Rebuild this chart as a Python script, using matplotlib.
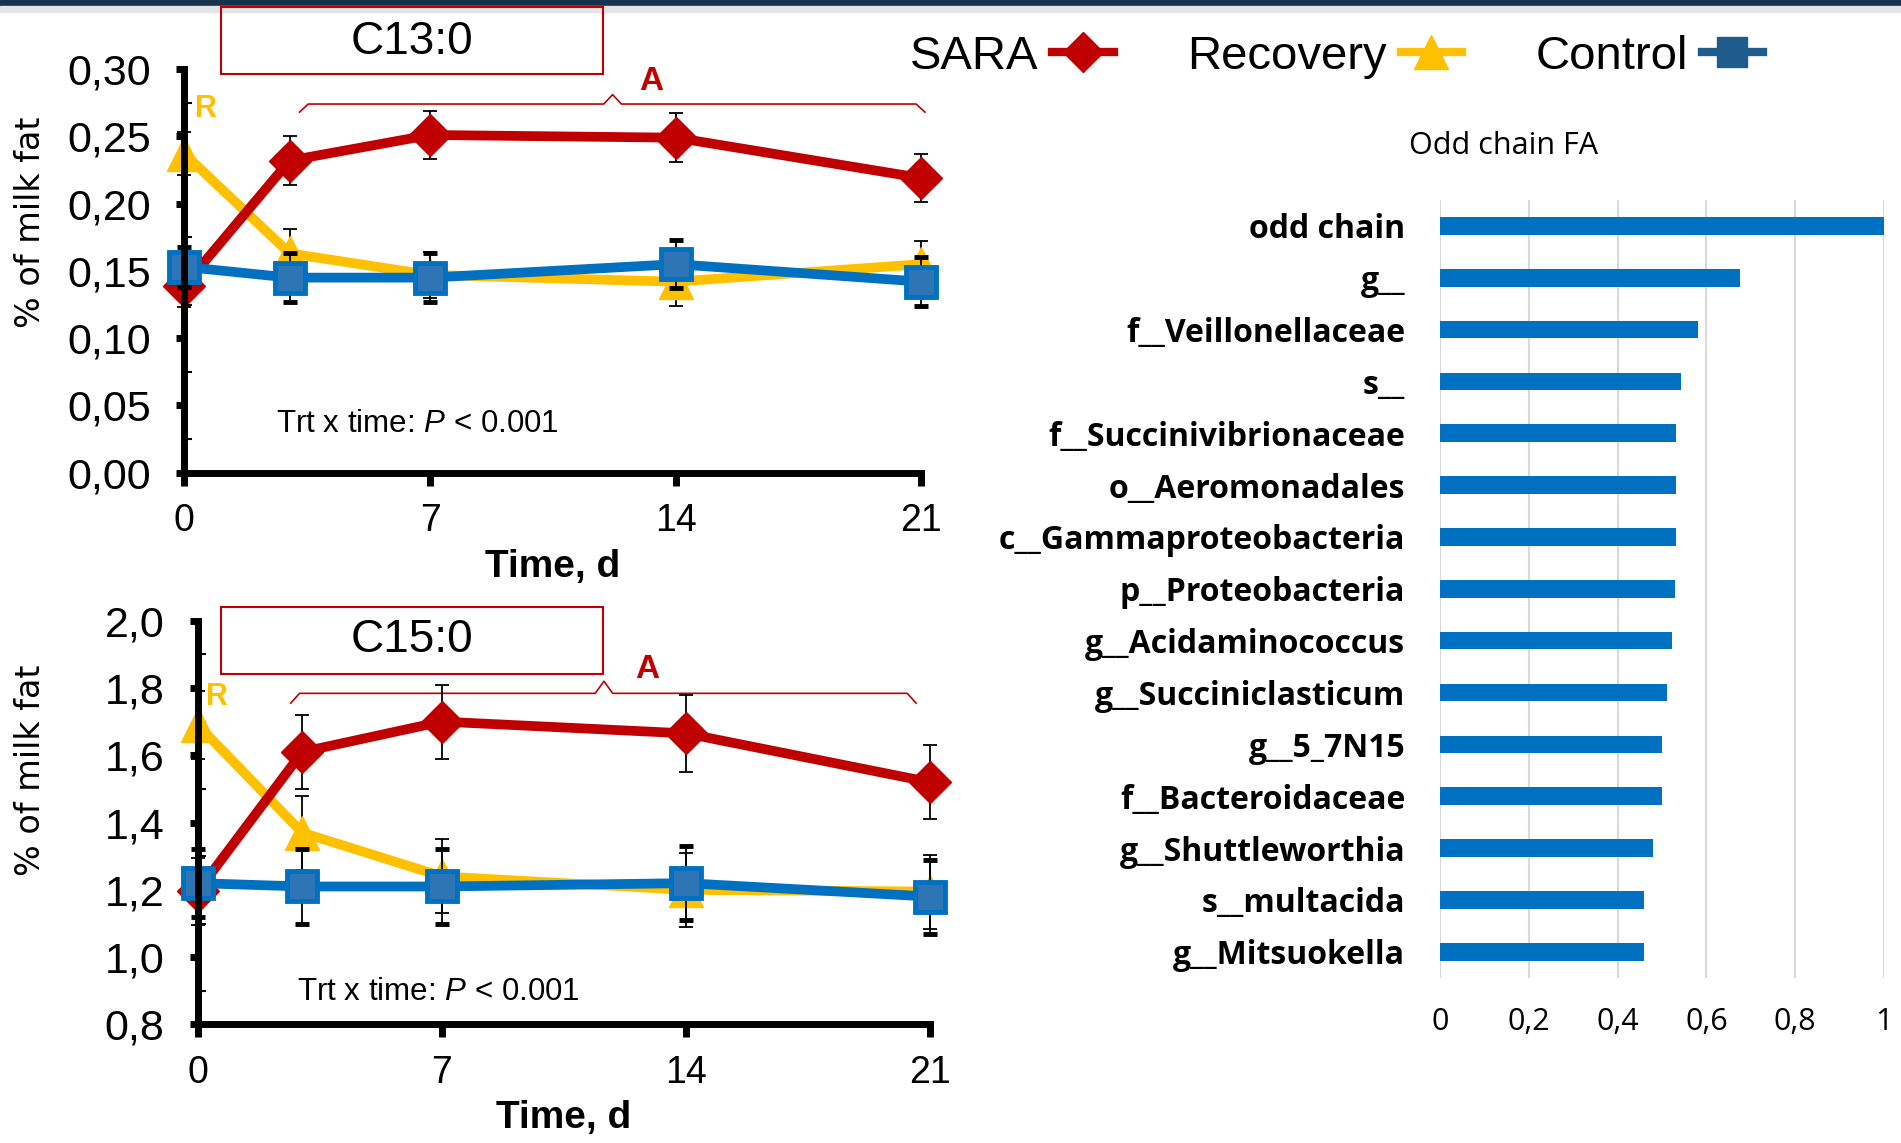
import matplotlib
matplotlib.use("Agg")
import matplotlib.pyplot as plt
from matplotlib.lines import Line2D
from matplotlib.patches import Rectangle
from matplotlib.ticker import FuncFormatter, MultipleLocator

SANS = ["Liberation Sans", "DejaVu Sans"]
OPEN = ["Open Sans", "DejaVu Sans"]
plt.rcParams["font.family"] = SANS
plt.rcParams["mathtext.fontset"] = "custom"
plt.rcParams["mathtext.rm"] = "Liberation Sans"
plt.rcParams["mathtext.it"] = "Liberation Sans:italic"

# --- time course data ---
days = [0, 3, 7, 14, 21]

c13_sara = [0.139, 0.232, 0.251, 0.249, 0.219]
c13_recovery = [0.237, 0.163, 0.147, 0.142, 0.155]
c13_control = [0.153, 0.145, 0.145, 0.155, 0.142]
c13_sara_se = [0.016, 0.018, 0.018, 0.018, 0.018]
c13_recovery_se = [0.016, 0.018, 0.017, 0.018, 0.017]
c13_control_se = [0.015, 0.018, 0.018, 0.018, 0.018]

c15_sara = [1.196, 1.61, 1.70, 1.665, 1.52]
c15_recovery = [1.69, 1.37, 1.24, 1.20, 1.195]
c15_control = [1.22, 1.21, 1.21, 1.22, 1.18]
c15_sara_se = [0.10, 0.11, 0.11, 0.115, 0.11]
c15_recovery_se = [0.10, 0.11, 0.11, 0.11, 0.11]
c15_control_se = [0.10, 0.11, 0.11, 0.11, 0.11]

# --- odd chain FA correlation bars ---
taxa = ["odd chain", "g__", "f__Veillonellaceae", "s__", "f__Succinivibrionaceae",
        "o__Aeromonadales", "c__Gammaproteobacteria", "p__Proteobacteria",
        "g__Acidaminococcus", "g__Succiniclasticum", "g__5_7N15", "f__Bacteroidaceae",
        "g__Shuttleworthia", "s__multacida", "g__Mitsuokella"]
scores = [1.0, 0.675, 0.58, 0.542, 0.531, 0.531, 0.531, 0.529, 0.523, 0.512,
          0.499, 0.499, 0.48, 0.46, 0.46]

RED = "#C00000"
YEL = "#FFC000"
BLUE = "#0070C0"

comma = lambda fmt: FuncFormatter(lambda v, p: (fmt % v).replace(".", ","))

fig = plt.figure(figsize=(19.01, 11.43), dpi=100)
fig.patches.append(Rectangle((0, 1 - 6 / 1143), 1, 6 / 1143, transform=fig.transFigure,
                             color="#17324D", zorder=0))
fig.patches.append(Rectangle((0, 1 - 12 / 1143), 1, 6 / 1143, transform=fig.transFigure,
                             color="#E4E4E4", zorder=0))


def time_panel(rect, sara, rec, ctl, sse, rse, cse, ylim, step, fmt):
    ax = fig.add_axes(rect)
    kw = dict(lw=7, elinewidth=1.3, ecolor="black", capsize=5, capthick=1.3)
    conts = [
        ax.errorbar(days, rec, yerr=rse, color=YEL, marker="^", ms=25, zorder=3, **kw),
        ax.errorbar(days, sara, yerr=sse, color=RED, marker="D", ms=21, zorder=4, **kw),
        ax.errorbar(days, ctl, yerr=cse, color=BLUE, marker="s", ms=21,
                    mfc="#2E75B6", mec=BLUE, mew=3.5, zorder=5, **kw),
    ]
    for c in conts:
        for a in c.get_children():
            a.set_clip_on(False)
    ax.set_xlim(0, 21)
    ax.set_ylim(*ylim)
    ax.set_xticks([0, 7, 14, 21])
    ax.yaxis.set_major_locator(MultipleLocator(step))
    ax.yaxis.set_minor_locator(MultipleLocator(step / 2))
    ax.yaxis.set_major_formatter(comma(fmt))
    for s in ("top", "right"):
        ax.spines[s].set_visible(False)
    for s in ("left", "bottom"):
        ax.spines[s].set_linewidth(5)
    ax.tick_params(axis="y", which="major", direction="out", length=6, width=5,
                   labelsize=31, pad=18)
    ax.tick_params(axis="x", which="major", direction="out", length=9, width=5,
                   labelsize=27, pad=13)
    ax.tick_params(axis="y", which="minor", direction="in", length=6, width=1.5)
    for sp in ax.spines.values():
        sp.set_zorder(6)
    ax.patch.set_alpha(0)
    return ax


ax1 = time_panel([0.0970, 0.5864, 0.3877, 0.3532], c13_sara, c13_recovery, c13_control,
                 c13_sara_se, c13_recovery_se, c13_control_se, (0, 0.30), 0.05, "%.2f")
ax2 = time_panel([0.1040, 0.1037, 0.3852, 0.3533], c15_sara, c15_recovery, c15_control,
                 c15_sara_se, c15_recovery_se, c15_control_se, (0.8, 2.0), 0.2, "%.1f")


def bracket(ax, x0, x1, xm, yb, ylow, yup, xa, ya):
    d = 0.25
    xs = [x0, x0 + d, xm - d, xm, xm + d, x1 - d, x1]
    ys = [ylow, yb, yb, yup, yb, yb, ylow]
    ax.plot(xs, ys, color=RED, lw=1.2, clip_on=False, zorder=2)
    ax.text(xa, ya, "A", color=RED, fontsize=24, fontweight="bold", ha="center",
            va="center", clip_on=False)


bracket(ax1, 3.28, 21.1, 12.2, 0.274, 0.268, 0.281, 13.3, 0.291)
bracket(ax2, 2.67, 20.6, 11.65, 1.784, 1.755, 1.82, 12.9, 1.855)
ax1.text(0.62, 0.270, "R", color=YEL, fontsize=22, fontweight="bold", ha="center", va="center")
ax2.text(0.56, 1.773, "R", color=YEL, fontsize=22, fontweight="bold", ha="center", va="center")

ax1.text(2.6, 0.036, r"Trt x time: $\mathit{P}$ < 0.001", fontsize=22.5, va="center")
ax2.text(2.85, 0.897, r"Trt x time: $\mathit{P}$ < 0.001", fontsize=22.5, va="center")

for ax, yc in ((ax1, 567), (ax2, 1118)):
    fig.text(ax.get_position().x0 + ax.get_position().width * 0.5, 1 - yc / 1143,
             "Time, d", fontsize=28, fontweight="bold", ha="center", va="center")

fig.text(30 / 1901, 1 - 222 / 1143, "% of milk fat", rotation=90, fontsize=24,
         family="DejaVu Sans", ha="center", va="center")
fig.text(30 / 1901, 1 - 770 / 1143, "% of milk fat", rotation=90, fontsize=24,
         family="DejaVu Sans", ha="center", va="center")

for y0, ty, lab in ((0.9353, 0.9629, "C13:0"), (0.4102, 0.4400, "C15:0")):
    fig.patches.append(Rectangle((0.1161, y0), 0.2009, 0.059, transform=fig.transFigure,
                                 fill=False, ec=RED, lw=1.5))
    fig.text(0.1161 + 0.2009 / 2, ty, lab, fontsize=33, ha="center", va="center")

# legend
handles = [Line2D([], [], color=RED, lw=6, marker="D", ms=20),
           Line2D([], [], color=YEL, lw=6, marker="^", ms=24),
           Line2D([], [], color="#1F5C8B", lw=6, marker="s", ms=21)]
fig.legend(handles, ["SARA", "Recovery", "Control"], ncol=3, markerfirst=False,
           frameon=False, fontsize=34, handlelength=1.3, handletextpad=0.3,
           columnspacing=1.55, loc="center", bbox_to_anchor=(0.703, 1 - 57 / 1143))

# bar chart
ax3 = fig.add_axes([0.7575, 0.1447, 0.2336, 0.6803])
ypos = list(range(len(taxa)))
ax3.barh(ypos, scores, height=0.34, color=BLUE, zorder=3)
ax3.set_yticks(ypos)
ax3.set_yticklabels(taxa, fontsize=23, fontweight="bold", family=OPEN)
ax3.set_ylim(len(taxa) - 0.5, -0.5)
ax3.set_xlim(0, 1)
ax3.set_xticks([0, 0.2, 0.4, 0.6, 0.8, 1.0])
ax3.xaxis.set_major_formatter(FuncFormatter(lambda v, p: ("%g" % round(v, 1)).replace(".", ",")))
ax3.grid(axis="x", color="#D9D9D9", lw=1.5, zorder=0)
for sp in ax3.spines.values():
    sp.set_visible(False)
ax3.tick_params(axis="both", length=0)
ax3.tick_params(axis="y", pad=25)
ax3.tick_params(axis="x", pad=21, labelsize=22)
for t in ax3.get_xticklabels():
    t.set_family(OPEN)
fig.text(1503 / 1901, 1 - 145.5 / 1143, "Odd chain FA", fontsize=22, family=OPEN,
         ha="center", va="center")

fig.savefig("out.png", dpi=100)
